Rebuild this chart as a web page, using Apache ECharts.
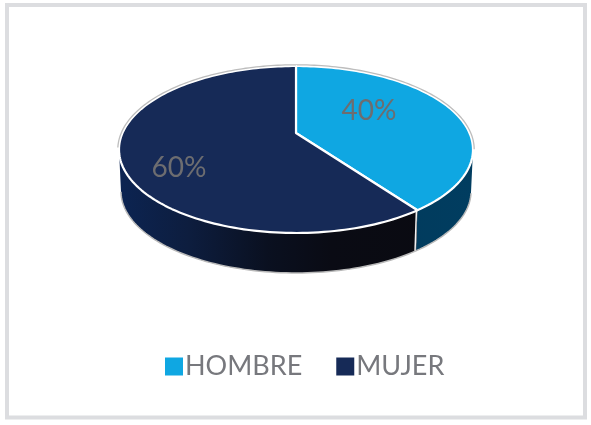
<!DOCTYPE html>
<html><head><meta charset="utf-8">
<style>html,body{margin:0;padding:0;background:#fff}#c{width:591px;height:425px}</style>
<script src="https://cdn.jsdelivr.net/npm/echarts@6/dist/echarts.min.js"></script>
</head><body><div id="c"></div>
<script>
const categories = ['HOMBRE', 'MUJER'];
const values = [40, 60];
const colors = ['#0fa7e2', '#162a57'];
const wallStops = [
  [[0, '#013553'], [1, '#013d60']],
  [[0, '#0c2452'], [0.2, '#0d1d3e'], [0.42, '#0a1020'], [0.6, '#0a0b14'], [1, '#0a0a10']]
];
const labelPos = [[369, 111], [179, 168]];

const topE = {cx: 296, cy: 149.5, rx: 177, ry: 83.5};
const botE = {cx: 296, cy: 191.5, rx: 175, ry: 81.5};
const persp = 0.198, ps = Math.sqrt(1 - persp * persp);
const total = values.reduce((a, b) => a + b, 0);

function proj(e, th, grow) {
  const u = Math.sin(th), v = Math.cos(th), k = 1 + persp * v, g = grow || 0;
  const up = u * ps / k, vp = (v + persp) / k;
  return {x: e.cx + (e.rx + g) * up, y: e.cy - (e.ry + g) * vp, front: vp <= 0};
}
function arc(e, a, b, grow) {
  const n = Math.max(2, Math.ceil((b - a) * 40)), out = [];
  for (let i = 0; i <= n; i++) out.push(proj(e, a + (b - a) * i / n, grow));
  return out;
}
const xy = p => [p.x, p.y];

function renderSlice(idx) {
  return function (params, api) {
    const val = api.value(0);
    const before = values.slice(0, idx).reduce((a, b) => a + b, 0);
    const a = before / total * 2 * Math.PI, b = (before + val) / total * 2 * Math.PI;
    const apex = {x: topE.cx, y: topE.cy - topE.ry * persp};
    const children = [];
    const topArc = arc(topE, a, b), botArc = arc(botE, a, b);
    const keep = [];
    topArc.forEach((p, i) => { if (p.front) keep.push(i); });
    if (keep.length) {
      const t = keep.map(i => xy(topArc[i])), d = keep.map(i => xy(botArc[i]));
      children.push({type: 'polygon', shape: {points: t.concat(d.slice().reverse())},
        style: {fill: {type: 'linear', x: 119, y: 0, x2: 473, y2: 0, global: true,
          colorStops: wallStops[idx].map(s => ({offset: s[0], color: s[1]}))}}});
      children.push({type: 'polyline', shape: {points: d}, style: {fill: null, stroke: '#b9b9b9', lineWidth: 1.5}});
      [keep[0], keep[keep.length - 1]].forEach(i => {
        if (i === 0 || i === topArc.length - 1) {
          children.push({type: 'line', shape: {x1: topArc[i].x - 1, y1: topArc[i].y, x2: botArc[i].x - 1, y2: botArc[i].y},
            style: {stroke: '#f2f2f2', lineWidth: 1.5}});
        }
      });
    }
    const back = arc(topE, a, b, 1.2).filter(p => !p.front).map(xy);
    children.push({type: 'polygon', shape: {points: [[apex.x, apex.y]].concat(topArc.map(xy))},
      style: {fill: colors[idx], stroke: '#ffffff', lineWidth: 2.2, lineJoin: 'round'}});
    if (back.length) children.push({type: 'polyline', shape: {points: back}, style: {fill: null, stroke: '#bdbdbd', lineWidth: 1.3}});
    children.push({type: 'text', x: labelPos[idx][0], y: labelPos[idx][1],
      style: {text: Math.round(val / total * 100) + '%', fill: '#6d6d70', font: '28px Lato', align: 'center', verticalAlign: 'middle'}});
    return {type: 'group', children};
  };
}

const chart = echarts.init(document.getElementById('c'), null, {renderer: 'canvas'});
chart.setOption({
  animation: false,
  backgroundColor: '#ffffff',
  graphic: [{type: 'rect', z: -1, shape: {x: 7, y: 5, width: 578, height: 412.5},
    style: {fill: '#ffffff', stroke: '#dcdde0', lineWidth: 4}}],
  legend: {
    data: categories, left: 165, top: 353, padding: 0, icon: 'rect', itemWidth: 18, itemHeight: 18, itemGap: 34,
    textStyle: {color: '#77787d', fontSize: 27, fontFamily: 'Lato', padding: [0, 0, 0, -3]},
    selectedMode: false
  },
  series: categories.map((name, i) => ({
    type: 'custom', name, coordinateSystem: 'none', silent: true,
    itemStyle: {color: colors[i]},
    data: [[values[i]]],
    renderItem: renderSlice(i)
  }))
});
</script></body></html>
